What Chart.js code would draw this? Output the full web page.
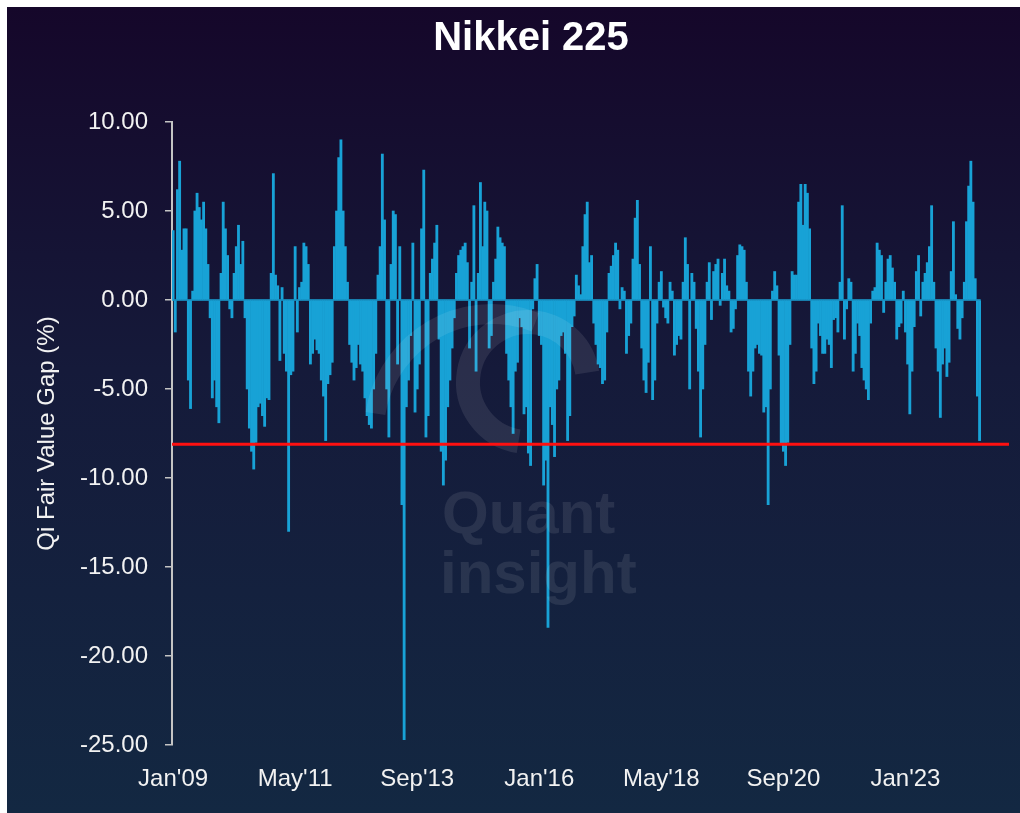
<!DOCTYPE html>
<html>
<head>
<meta charset="utf-8">
<title>Nikkei 225 - Qi Fair Value Gap</title>
<script src="https://cdn.jsdelivr.net/npm/chart.js@4.4.1/dist/chart.umd.min.js"></script>
<style>
  html, body { margin: 0; padding: 0; background: #ffffff; }
  #wrap {
    position: absolute; left: 7px; top: 7px; width: 1013px; height: 806px;
    background: linear-gradient(to bottom, #15072a 0%, #151a3a 45%, #132842 100%);
  }
</style>
</head>
<body>
<div id="wrap"><canvas id="fvgChart"></canvas></div>
<script>
// semi-monthly buckets, Jan'09 .. Dec'24 (data stops mid 2024)
const monthNames = ['Jan', 'Feb', 'Mar', 'Apr', 'May', 'Jun', 'Jul', 'Aug', 'Sep', 'Oct', 'Nov', 'Dec'];
const categories = [];
for (let m = 0; m < 192; m++) {
  const lab = monthNames[m % 12] + "'" + String(9 + Math.floor(m / 12)).padStart(2, '0');
  categories.push(lab, lab);
}

const tickLabels = ["Jan'09", "May'11", "Sep'13", "Jan'16", "May'18", "Sep'20", "Jan'23"];
const yTicks = [10, 5, 0, -5, -10, -15, -20, -25];

// Qi fair value gap (%)
const gapValues = [
  3.9, -1.8, 6.2, 7.8, 2.8, 4.0, 4.0, -4.5, -6.1, 0.5, 5.0, 6.0,
  5.2, 4.5, 5.5, 4.0, 2.0, -1.0, -5.5, -4.5, -6.0, -6.9, 1.5, 5.5,
  4.0, 2.5, -0.5, -1.0, 1.5, 3.0, 4.2, 2.0, 3.3, -1.0, -5.0, -7.2,
  -8.5, -9.5, -8.0, -6.0, -5.8, -6.5, -7.1, -5.5, -5.6, 1.5, 7.1, 1.4,
  0.8, -3.4, 0.7, -3.0, -4.0, -13.0, -4.2, -4.0, 3.0, -1.8, 0.7, 1.0,
  3.2, 3.0, 2.0, -3.6, -3.0, -2.2, -2.8, -3.0, -4.5, -5.4, -7.9, -4.7,
  -4.2, -3.5, 3.0, 5.0, 8.0, 9.0, 5.0, 3.0, 1.0, -2.5, -3.5, -4.5,
  -3.8, -2.5, -3.6, -4.0, -5.5, -6.5, -7.0, -7.2, -5.0, -3.0, 1.4, 3.0,
  8.2, 4.5, -5.0, -7.7, 2.0, 5.0, 4.8, -3.6, 3.0, -11.5, -24.7, -6.0,
  -4.5, -2.0, 3.2, -6.3, -5.0, -3.6, 4.0, 7.3, -7.7, -6.5, 1.5, 2.3,
  3.2, 4.2, -2.2, -8.5, -10.4, -9.0, -6.0, -4.5, -2.7, -1.0, 1.5, 2.5,
  2.8, 3.0, 3.2, 2.1, -2.7, 1.0, 5.3, -4.0, 1.5, 6.6, 3.0, 5.5,
  5.0, -2.7, -2.0, 1.0, 2.3, 4.1, 3.5, 3.2, 3.0, -3.0, -4.5, -6.0,
  -7.5, -4.0, -3.5, -1.0, -1.5, -6.4, -6.0, -8.6, -9.3, -0.5, 1.2, 2.0,
  -2.0, -2.5, -10.4, -9.0, -18.4, -6.0, -7.0, -8.8, -5.0, -4.5, -2.0, -1.8,
  -3.0, -7.9, -6.5, -1.5, -0.9, 1.4, 0.8, 0.3, 3.0, 4.8, 5.5, 2.1,
  2.5, -1.3, -2.5, -3.6, -3.8, -4.7, -4.5, -1.8, 1.5, 1.9, 2.5, 3.2,
  2.8, -0.5, 0.7, 0.5, -3.0, -2.0, -1.3, 2.3, 4.6, 5.6, 2.0, -2.7,
  -4.5, -5.2, -3.5, 3.0, -5.6, -4.5, -1.3, 1.0, 1.6, -0.4, -1.0, -1.3,
  1.0, 0.5, -3.1, -2.5, -2.0, -2.2, 1.0, 3.5, 2.0, -5.0, 1.5, 1.0,
  -1.6, -4.0, -7.7, -5.0, -2.5, 1.0, 2.1, -1.1, 1.6, 2.0, 2.3, -0.3,
  1.5, 2.3, 0.8, 0.5, -1.8, -1.6, -0.5, 2.5, 3.1, 3.0, 2.8, 1.0,
  -4.0, -5.4, -4.0, -2.7, -2.5, -3.0, -3.1, -6.3, -6.0, -11.5, -5.0, 0.5,
  1.6, 0.8, -3.1, -8.1, -8.5, -9.3, -8.0, -2.5, 1.6, 1.4, 1.4, 5.5,
  6.5, 4.2, 6.5, 6.0, 4.0, -2.7, -4.7, -4.0, -1.3, -2.0, -3.0, -3.0,
  -2.2, -2.5, -3.8, -1.1, -1.0, -1.8, 1.0, 5.3, -2.2, -0.5, 1.2, 1.0,
  -4.0, -3.0, -1.3, -2.0, -3.8, -4.5, -5.0, -5.6, -1.3, 0.5, 0.7, 3.2,
  2.8, 2.5, -0.7, 1.0, 2.3, 2.5, 1.8, 1.0, -2.2, -1.5, -1.3, 0.5,
  -1.8, -3.6, -6.4, -4.0, -1.5, 1.6, 2.5, -0.9, 1.0, 1.5, 2.1, 3.0,
  5.3, 1.0, -2.7, -4.0, -6.6, -3.6, -2.7, -4.3, -3.5, 1.6, 4.4, 0.3,
  -1.6, -2.2, -1.0, 1.0, 4.4, 6.4, 7.8, 5.5, 1.2, -5.4, -7.9
];

const thresholdValue = -8.1;

const barColor = '#18a2d6';
const axisColor = '#c4c4c4';
const textColor = '#f2f2f2';
const fontFamily = "Arial, 'Liberation Sans', sans-serif";

// title drawn by hand so it can sit a little right of the canvas centre
const titlePlugin = {
  id: 'titlePlugin',
  afterDraw(chart) {
    const ctx = chart.ctx;
    ctx.save();
    ctx.fillStyle = '#ffffff';
    ctx.font = 'bold 40px ' + fontFamily;
    ctx.textAlign = 'center';
    ctx.textBaseline = 'middle';
    ctx.fillText('Nikkei 225', 524, 32);
    ctx.restore();
  }
};

// thin baseline under the bars, only as far as the data goes
const zeroLinePlugin = {
  id: 'zeroLinePlugin',
  beforeDatasetsDraw(chart) {
    const { ctx, chartArea, scales } = chart;
    const py = scales.y.getPixelForValue(0);
    const half = (scales.x.getPixelForValue(1) - scales.x.getPixelForValue(0)) / 2;
    const xEnd = scales.x.getPixelForValue(gapValues.length - 1) + half;
    ctx.save();
    ctx.strokeStyle = barColor;
    ctx.lineWidth = 1.5;
    ctx.beginPath();
    ctx.moveTo(chartArea.left, py);
    ctx.lineTo(xEnd, py);
    ctx.stroke();
    ctx.restore();
  }
};

const thresholdPlugin = {
  id: 'thresholdPlugin',
  afterDatasetsDraw(chart) {
    const { ctx, chartArea, scales } = chart;
    const py = scales.y.getPixelForValue(thresholdValue);
    ctx.save();
    ctx.strokeStyle = '#ff1010';
    ctx.lineWidth = 3;
    ctx.beginPath();
    ctx.moveTo(chartArea.left, py);
    ctx.lineTo(chartArea.right, py);
    ctx.stroke();
    ctx.restore();
  }
};

// faint "Quant insight" logo over the plot
const watermarkPlugin = {
  id: 'watermarkPlugin',
  afterDatasetsDraw(chart) {
    const ctx = chart.ctx;
    ctx.save();
    ctx.strokeStyle = 'rgba(255,255,255,0.09)';
    ctx.lineWidth = 20;
    ctx.beginPath();
    ctx.arc(485, 425, 118, Math.PI * 1.05, Math.PI * 1.62);
    ctx.stroke();
    ctx.lineWidth = 24;
    ctx.beginPath();
    ctx.arc(521, 375, 60, Math.PI * 0.55, Math.PI * 1.95);
    ctx.stroke();
    ctx.fillStyle = 'rgba(255,255,255,0.09)';
    ctx.font = 'bold 60px ' + fontFamily;
    ctx.textAlign = 'left';
    ctx.textBaseline = 'alphabetic';
    ctx.fillText('Quant', 435, 526);
    ctx.fillText('insight', 433, 586);
    ctx.restore();
  }
};

new Chart(document.getElementById('fvgChart'), {
  type: 'bar',
  data: {
    labels: categories,
    datasets: [{
      label: 'Qi Fair Value Gap (%)',
      data: gapValues,
      backgroundColor: barColor,
      borderWidth: 0,
      barPercentage: 1.0,
      categoryPercentage: 1.0
    }]
  },
  options: {
    responsive: true,
    maintainAspectRatio: false,
    animation: false,
    layout: { padding: { top: 115, right: 11, bottom: 0, left: 0 } },
    plugins: {
      legend: { display: false },
      tooltip: { enabled: false },
      title: { display: false }
    },
    scales: {
      x: {
        grid: { display: false, drawTicks: false },
        border: { display: false },
        afterFit(scale) { scale.height = 68; },
        afterBuildTicks(scale) {
          const idx = tickLabels.map(t => categories.indexOf(t));
          scale.ticks = idx.map(v => ({ value: v }));
        },
        ticks: {
          autoSkip: false,
          maxRotation: 0,
          padding: 20,
          color: textColor,
          font: { family: fontFamily, size: 24 }
        }
      },
      y: {
        min: -25,
        max: 10,
        afterFit(scale) { scale.width = 165; },
        afterBuildTicks(scale) { scale.ticks = yTicks.map(v => ({ value: v })); },
        grid: {
          drawOnChartArea: false,
          tickColor: axisColor,
          tickLength: 7,
          lineWidth: 1.5
        },
        border: { display: true, color: axisColor, width: 2 },
        title: {
          display: true,
          text: 'Qi Fair Value Gap (%)',
          color: textColor,
          font: { family: fontFamily, size: 24 },
          padding: { top: 26, bottom: 0 }
        },
        ticks: {
          padding: 17,
          color: textColor,
          font: { family: fontFamily, size: 24 },
          callback: v => Number(v).toFixed(2)
        }
      }
    }
  },
  plugins: [zeroLinePlugin, watermarkPlugin, thresholdPlugin, titlePlugin]
});
</script>
</body>
</html>
